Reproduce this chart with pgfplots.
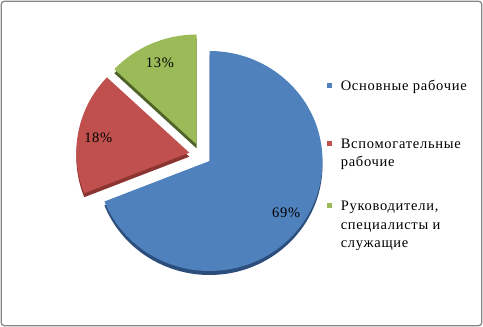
\documentclass[border=0pt]{standalone}
\usepackage{pgfplots}
\pgfplotsset{compat=1.18}
\usepackage{pgfplotstable}
\usepackage{fontspec}
\setmainfont[LetterSpace=5]{Liberation Serif}

\definecolor{sliceA}{HTML}{4F81BD}
\definecolor{sliceAside}{HTML}{2C4E7C}
\definecolor{sliceB}{HTML}{C0504D}
\definecolor{sliceBside}{HTML}{8C3431}
\definecolor{sliceC}{HTML}{9BBB59}
\definecolor{sliceCside}{HTML}{4F6228}
\definecolor{framegray}{HTML}{868686}

% share in percent, and how far each slice is pulled out of the pie (pt)
\pgfplotstableread{
share dx dy
69 0 0
18 -20.2 8.3
13 -12.8 16.5
}\shares

\newcommand{\pierx}{113}
\newcommand{\piery}{110}
\newcommand{\piecx}{209.5}
\newcommand{\piecy}{166}
\newcommand{\piedepth}{4}

% legend entry: colour, baseline of the first line, baseline of the last line, text
\newcommand{\legendentry}[4]{%
  \fill[#1] (axis cs:327.3,#2+2.7) rectangle (axis cs:332.1,#2+7.4);
  \node[anchor=base west, inner sep=0pt, align=left,
        font=\fontsize{14.5}{18.6}\selectfont] at (axis cs:340.6,#3) {#4};
}

\begin{document}
\begin{tikzpicture}
\begin{axis}[
  x=1pt, y=1pt,
  xmin=0, xmax=483, ymin=0, ymax=327,
  scale only axis, hide axis, clip=false,
]
\pgfplotsextra{
  % outer frame
  \path (axis cs:0,0) rectangle (axis cs:483,327);
  \draw[framegray, line width=1.3pt, rounded corners=3pt]
    (axis cs:1.3,1.3) rectangle (axis cs:481.7,325.7);
  % side faces first
  \gdef\cum{0}
  \foreach \i/\fc/\sc in {0/sliceA/sliceAside,1/sliceB/sliceBside,2/sliceC/sliceCside}{
    \pgfplotstablegetelem{\i}{share}\of\shares \let\share\pgfplotsretval
    \pgfplotstablegetelem{\i}{dx}\of\shares \let\dx\pgfplotsretval
    \pgfplotstablegetelem{\i}{dy}\of\shares \let\dy\pgfplotsretval
    \pgfmathsetmacro{\aS}{90-3.6*\cum}
    \pgfmathsetmacro{\aE}{\aS-3.6*\share}
    \pgfmathsetmacro{\cx}{\piecx+\dx}
    \pgfmathsetmacro{\cy}{\piecy+\dy-\piedepth}
    \fill[\sc] (axis cs:\cx,\cy) -- ++(\aS:\pierx pt and \piery pt)
      arc[start angle=\aS, end angle=\aE, x radius=\pierx pt, y radius=\piery pt] -- cycle;
    \pgfmathsetmacro{\newcum}{\cum+\share}
    \xdef\cum{\newcum}
  }
  % top faces and value labels
  \gdef\cum{0}
  \foreach \i/\fc/\sc in {0/sliceA/sliceAside,1/sliceB/sliceBside,2/sliceC/sliceCside}{
    \pgfplotstablegetelem{\i}{share}\of\shares \let\share\pgfplotsretval
    \pgfplotstablegetelem{\i}{dx}\of\shares \let\dx\pgfplotsretval
    \pgfplotstablegetelem{\i}{dy}\of\shares \let\dy\pgfplotsretval
    \pgfmathsetmacro{\aS}{90-3.6*\cum}
    \pgfmathsetmacro{\aE}{\aS-3.6*\share}
    \pgfmathsetmacro{\aM}{(\aS+\aE)/2}
    \pgfmathsetmacro{\cx}{\piecx+\dx}
    \pgfmathsetmacro{\cy}{\piecy+\dy}
    \fill[\fc] (axis cs:\cx,\cy) -- ++(\aS:\pierx pt and \piery pt)
      arc[start angle=\aS, end angle=\aE, x radius=\pierx pt, y radius=\piery pt] -- cycle;
    \pgfmathsetmacro{\lx}{\cx+0.82*\pierx*cos(\aM)}
    \pgfmathsetmacro{\ly}{\cy+0.82*\piery*sin(\aM)-1.5}
    \node[font=\fontsize{14.5}{17}\selectfont, inner sep=0pt] at (axis cs:\lx,\ly) {\share\%};
    \pgfmathsetmacro{\newcum}{\cum+\share}
    \xdef\cum{\newcum}
  }
  % legend
  \legendentry{sliceA}{236.3}{236.3}{Основные рабочие}
  \legendentry{sliceB}{178.7}{160.1}{Вспомогательные\\рабочие}
  \legendentry{sliceC}{116.3}{79.1}{Руководители,\\специалисты и\\служащие}
}
\end{axis}
\end{tikzpicture}
\end{document}
